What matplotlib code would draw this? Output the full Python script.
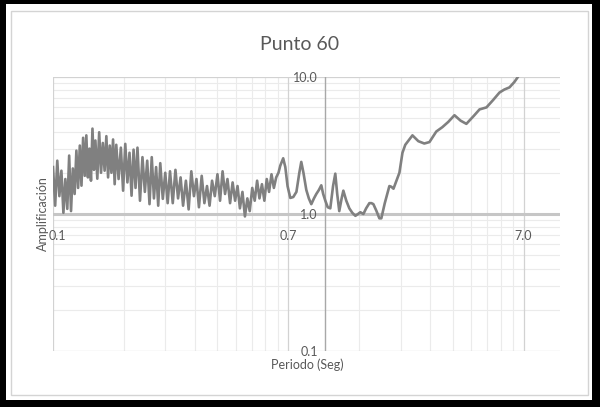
import matplotlib.pyplot as plt
from matplotlib.patches import Rectangle

# Periodo (s) and amplification
periodo = [
    0.070, 0.0715, 0.073, 0.0745, 0.076, 0.0775, 0.079, 0.0805, 0.082, 0.0835,
    0.085, 0.0865, 0.088, 0.0895, 0.091, 0.0925, 0.094, 0.0955, 0.097, 0.0985,
    0.100, 0.1015, 0.103, 0.1045, 0.106, 0.108, 0.110, 0.112, 0.114, 0.116,
    0.118, 0.120, 0.122, 0.124, 0.126, 0.128, 0.130, 0.133, 0.136, 0.139,
    0.142, 0.145, 0.148, 0.151, 0.154, 0.157, 0.160, 0.164, 0.168, 0.172,
    0.176, 0.180, 0.184, 0.188, 0.192, 0.196, 0.200, 0.205, 0.210, 0.215,
    0.220, 0.226, 0.232, 0.238, 0.244, 0.250, 0.257, 0.264, 0.271, 0.278,
    0.285, 0.292, 0.300, 0.308, 0.316, 0.324, 0.332, 0.341, 0.350, 0.359,
    0.368, 0.377, 0.386, 0.396, 0.406, 0.416, 0.426, 0.436, 0.447, 0.458,
    0.469, 0.480, 0.492, 0.504, 0.516, 0.528, 0.541, 0.554, 0.567, 0.580,
    0.594, 0.608, 0.622, 0.636, 0.647, 0.666, 0.680, 0.695, 0.714, 0.735,
    0.758, 0.780, 0.795, 0.812, 0.835, 0.856, 0.877, 0.900, 0.921, 0.945,
    0.967, 0.985, 1.006, 1.030, 1.056, 1.085, 1.109, 1.130, 1.153, 1.180,
    1.200, 1.235, 1.272, 1.310, 1.350, 1.385, 1.417, 1.460, 1.500, 1.548,
    1.580, 1.610, 1.660, 1.707, 1.740, 1.800, 1.883, 1.920, 1.960, 2.077,
    2.140, 2.200, 2.360, 2.500, 2.650, 2.787, 2.980, 3.160, 3.350, 3.560,
    3.780, 4.000, 4.300, 4.550, 4.870, 5.200, 5.530, 5.800, 6.100, 6.400,
    6.700,
]
amplificacion = [
    2.20, 1.15, 2.45, 1.35, 2.07, 1.02, 1.80, 1.09, 2.67, 1.05,
    2.15, 1.40, 2.90, 1.55, 3.16, 1.61, 3.60, 1.90, 3.75, 1.85,
    3.00, 1.75, 4.20, 2.10, 3.44, 1.81, 3.95, 2.00, 3.30, 2.07,
    3.70, 1.85, 3.16, 2.00, 3.50, 1.65, 3.20, 1.80, 3.05, 1.48,
    3.25, 1.70, 2.80, 1.36, 2.95, 1.55, 3.05, 1.25, 2.60, 1.45,
    2.45, 1.18, 2.60, 1.30, 2.20, 1.15, 2.35, 1.29, 2.00, 1.20,
    2.05, 1.20, 2.10, 1.30, 1.85, 1.15, 1.75, 1.08, 2.05, 1.35,
    1.80, 1.12, 1.90, 1.20, 1.60, 1.15, 1.75, 1.35, 1.95, 1.25,
    2.05, 1.40, 1.80, 1.20, 1.70, 1.25, 1.60, 1.10, 1.45, 0.96,
    1.30, 1.05, 1.55, 1.25, 1.75, 1.30, 1.65, 1.25, 1.80, 1.45,
    1.95, 1.55, 1.85, 2.00, 2.25, 2.55, 2.20, 1.60, 1.31, 1.33,
    1.45, 2.00, 2.40, 2.00, 1.50, 1.30, 1.18, 1.30, 1.40, 1.50,
    1.62, 1.40, 1.25, 1.12, 1.10, 1.60, 1.97, 1.40, 1.05, 1.30,
    1.48, 1.25, 1.10, 1.02, 0.97, 1.00, 1.03, 1.00, 1.10, 1.20,
    1.20, 1.18, 1.05, 0.93, 0.93, 1.20, 1.60, 1.58, 1.53, 2.00,
    2.80, 3.20, 3.75, 3.40, 3.27, 3.35, 4.00, 4.30, 4.70, 5.26,
    4.80, 4.55, 5.20, 5.80, 6.00, 6.80, 7.70, 8.10, 8.40, 9.20,
    10.30,
]

x_major = [0.07, 0.7, 7.0]
x_labels = ["0.1", "0.7", "7.0"]
y_major = [0.1, 1.0, 10.0]
y_labels = ["0.1", "1.0", "10.0"]

plt.rcParams['font.family'] = ['Lato', 'DejaVu Sans']
txt = '#595959'

fig = plt.figure(figsize=(6, 4.07), dpi=100)
fig.patch.set_facecolor('black')
fig.patches.append(Rectangle((6 / 600, 7 / 407), 586 / 600, 396 / 407,
                             transform=fig.transFigure, facecolor='white',
                             edgecolor='none', zorder=-3))
fig.patches.append(Rectangle((11 / 600, 12 / 407), 577 / 600, 384 / 407,
                             transform=fig.transFigure, facecolor='none',
                             edgecolor='#d4d4d4', lw=1, zorder=-2))

ax = fig.add_axes([53 / 600, 56 / 407, 507 / 600, 274 / 407])
ax.set_zorder(1)
ax.set_xscale('log')
ax.set_yscale('log')
ax.set_xlim(0.07, 10)
ax.set_ylim(0.1, 10)
ax.set_facecolor('none')
for s in ax.spines.values():
    s.set_visible(False)
ax.set_xticks([])
ax.set_yticks([])
ax.minorticks_off()

# gridlines (Excel-like)
for base in [0.07, 0.7]:
    for k in range(2, 10):
        ax.axvline(base * k, color='#ebebeb', lw=0.8, zorder=1)
for base in [0.1, 1.0]:
    for k in range(2, 10):
        ax.axhline(base * k, color='#ebebeb', lw=0.8, zorder=1)
for v in x_major:
    ax.axvline(v, color='#d2d2d2', lw=0.9, zorder=1)
for v in y_major:
    ax.axhline(v, color='#d2d2d2', lw=0.9, zorder=1)

# axes crossing at 1.0
ax.axhline(1.0, color='#c6c6c6', lw=2.2, zorder=2)
ax.axvline(1.0, color='#a8a8a8', lw=1.0, zorder=2)

ax.plot(periodo, amplificacion, color='#808080', lw=1.9, zorder=3,
        solid_joinstyle='round')

for i, (v, lab) in enumerate(zip(x_major, x_labels)):
    dx = 3 if i == 0 else 0
    ax.annotate(lab, (v, 1.0), xytext=(dx, -16), textcoords='offset points',
                ha='center', va='center', fontsize=9, color=txt,
                annotation_clip=False)
for v, lab in zip(y_major, y_labels):
    ax.annotate(lab, (1.0, v), xytext=(-5, -1), textcoords='offset points',
                ha='right', va='center', fontsize=9, color=txt,
                annotation_clip=False)

fig.text(0.5, 1 - 45 / 407, "Punto 60", ha='center', va='center',
         fontsize=14, color=txt)
fig.text(43 / 600, 1 - 214 / 407, "Amplificación", rotation=90,
         ha='center', va='center', fontsize=9, color=txt)
fig.text(307 / 600, 1 - 365 / 407, "Periodo (Seg)", ha='center',
         va='center', fontsize=9, color=txt)

fig.savefig('out.png', dpi=100, facecolor=fig.get_facecolor())
